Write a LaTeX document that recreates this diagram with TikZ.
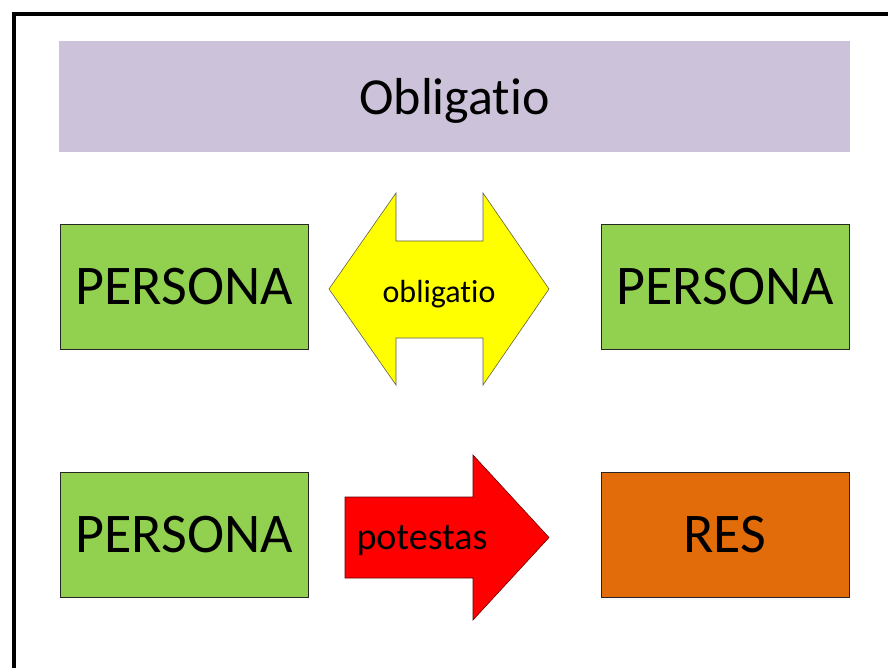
\documentclass[tikz,border=0pt]{standalone}
\usepackage{fontspec}
\setmainfont[Ligatures=NoCommon]{Carlito}
\definecolor{bandpurple}{HTML}{CCC3DB}
\definecolor{boxgreen}{HTML}{92D050}
\definecolor{boxorange}{HTML}{E36C0A}
\definecolor{arrowyellow}{HTML}{FFFF00}
\definecolor{arrowred}{HTML}{FF0000}
\begin{document}
\begin{tikzpicture}[x=1pt,y=-1pt,
  box/.style={draw=black!85,line width=0.8pt,minimum width=248pt,minimum height=125pt,inner sep=0pt,font=\fontsize{56}{60}\selectfont},
  band/.style={fill=bandpurple,minimum width=791pt,minimum height=111pt,inner sep=0pt},
  arrowshape/.style={line width=0.6pt,line join=miter}
]
\useasboundingbox (0,0) rectangle (888,668);
\fill[white] (0,0) rectangle (888,668);
\draw[line width=4pt] (14,700) -- (14,14) -- (900,14);
\node[band] (title) at (454.5,96.5) {};
\node[font=\fontsize{52}{56}\selectfont] (titletext) at (454.5,101) {Obligatio};
\node[box,fill=boxgreen] (p1) at (184,286.5) {PERSONA};
\node[box,fill=boxgreen] (p2) at (725,286.5) {PERSONA};
\node[box,fill=boxgreen] (p3) at (184,535) {PERSONA};
\node[box,fill=boxorange] (res) at (725,535) {RES};
% double arrow
\draw[arrowshape,fill=arrowyellow,draw=black!70!yellow] (329,289) -- (396,193) -- (396,241) -- (483,241) -- (483,193) -- (549,289) -- (483,385) -- (483,338) -- (396,338) -- (396,385) -- cycle;
\node[font=\fontsize{32}{36}\selectfont] (obl) at (439,294) {obligatio};
% single arrow
\draw[arrowshape,fill=arrowred,draw=black!60!red] (345,497) -- (473,497) -- (473,455) -- (549,537.5) -- (473,620) -- (473,578) -- (345,578) -- cycle;
\node[font=\fontsize{38}{42}\selectfont] (pot) at (422,541) {potestas};
\end{tikzpicture}
\end{document}
